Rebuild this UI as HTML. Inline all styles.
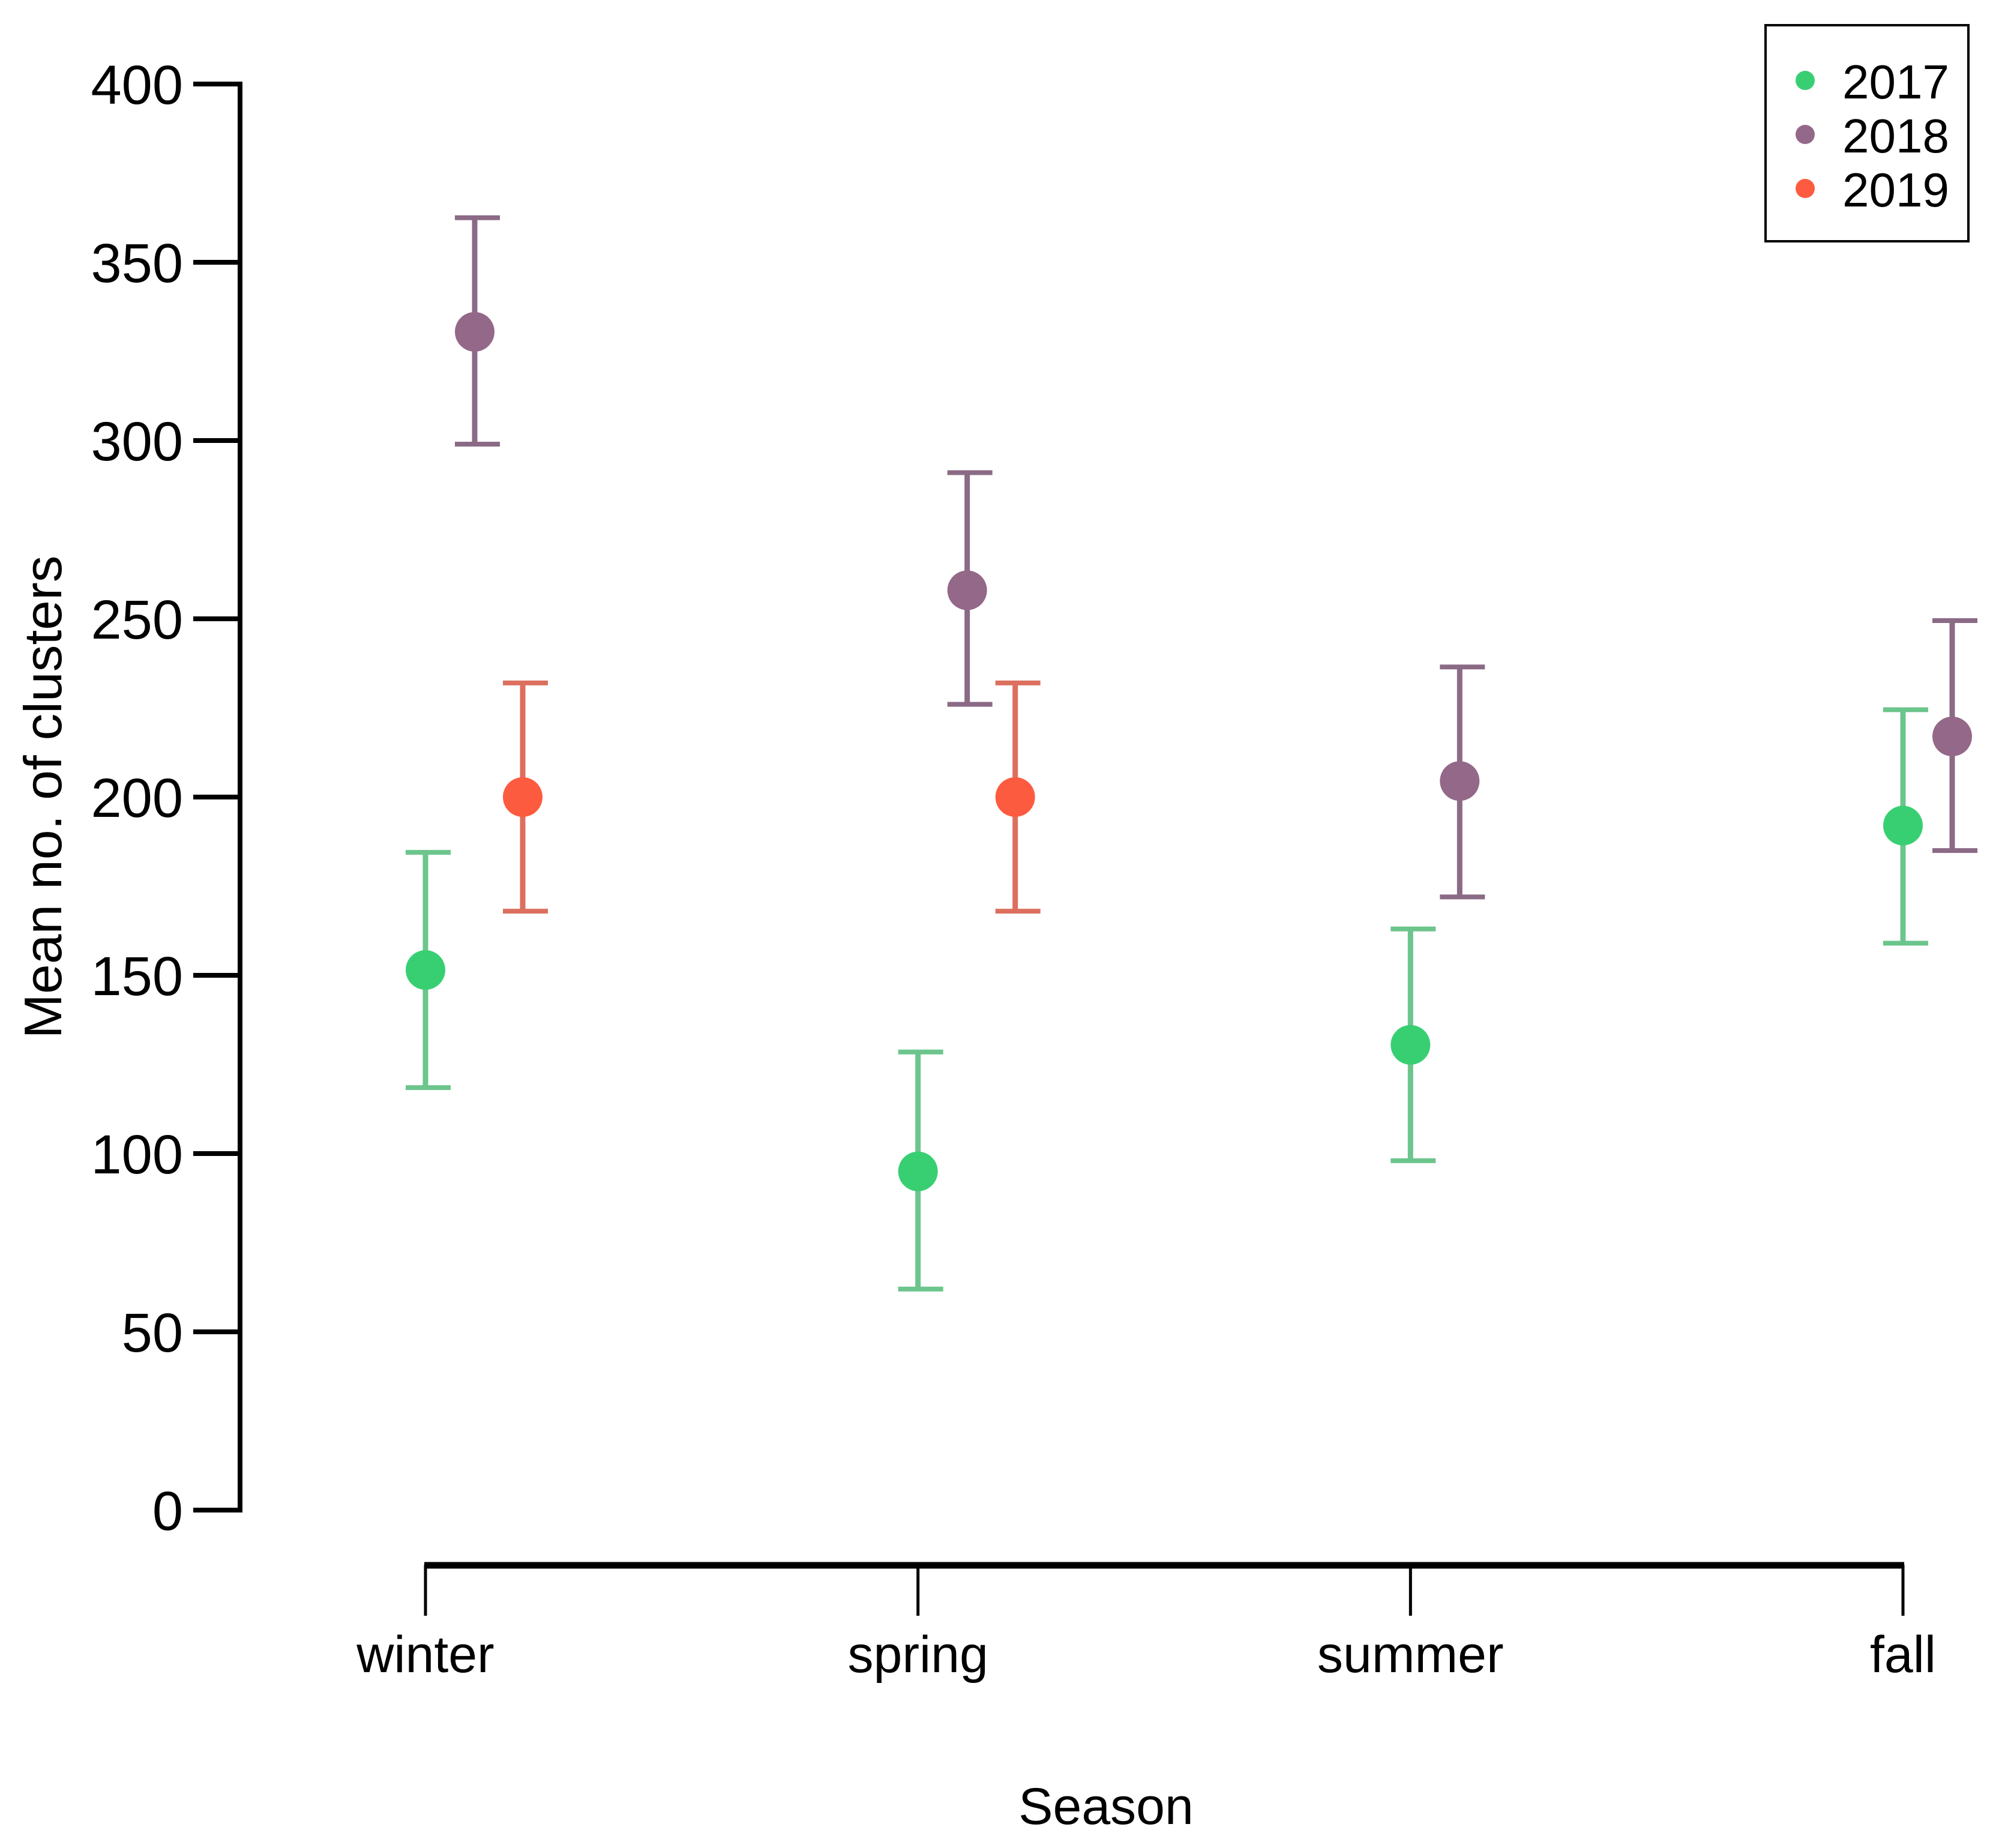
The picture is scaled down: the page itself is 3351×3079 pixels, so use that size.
<!DOCTYPE html>
<html><head><meta charset="utf-8"><style>html,body{margin:0;padding:0;background:#fff}svg{display:block}text{font-family:"Liberation Sans",Arial,sans-serif;fill:#000}</style></head>
<body>
<svg id="chart" xmlns="http://www.w3.org/2000/svg" width="3351" height="3079" viewBox="0 0 3351 3079">
<rect width="3351" height="3079" fill="#fff"/>
<g id="axes"></g>
<g id="marks"></g>
<g id="legend">
<rect x="2942" y="42" width="338" height="360" fill="#fff" stroke="#000" stroke-width="4"/>
</g>
<text x="1843" y="3039" font-size="86" text-anchor="middle">Season</text>
<text transform="translate(102,1328) rotate(-90)" font-size="88" text-anchor="middle" textLength="805" lengthAdjust="spacingAndGlyphs">Mean no. of clusters</text>
</svg>
<script>
const categories = ["winter","spring","summer","fall"];
const years = ["2017","2018","2019"];
const mean2017 = [151.5, 95, 130.5, 192];
const lo2017 = [118.5, 62, 98, 159];
const hi2017 = [184.5, 128.5, 163, 224.5];
const mean2018 = [330.5, 258, 204.5, 217];
const lo2018 = [299, 226, 172, 185];
const hi2018 = [362.5, 291, 236.5, 249.5];
const mean2019 = [200, 200, null, null];
const lo2019 = [168, 168, null, null];
const hi2019 = [232, 232, null, null];
const yTicks = [0,50,100,150,200,250,300,350,400];

const NS = "http://www.w3.org/2000/svg";
const Y0 = 2516, Y400 = 140;
function yScale(v){ return Y0 + (Y400 - Y0) * v / 400; }
const X0 = 709, X3 = 3171;
function xScale(i){ return X0 + (X3 - X0) * i / (categories.length - 1); }
const offsets = [0, 82, 162];
const markerCol = ["#38cf73","#946889","#fd5b3f"];
const barCol = ["#6cc58c","#8b6a86","#dc6f5e"];
function mk(tag, attrs, parent){ const e = document.createElementNS(NS, tag); for (const k in attrs) e.setAttribute(k, attrs[k]); parent.appendChild(e); return e; }

const axes = document.getElementById('axes');
let yl = mk('line',{x1:400,y1:yScale(400)-4,x2:400,y2:yScale(0)+4,stroke:'#000','stroke-width':8},axes);


yTicks.forEach(t=>{
  const y = yScale(t);
  let tk = mk('line',{x1:322,y1:y,x2:404,y2:y,stroke:'#000','stroke-width':8},axes);
  
  
  let lb = mk('text',{x:305,y:y+33,'font-size':92,'text-anchor':'end'},axes);
  lb.textContent = t;
  
  
});
let xl = mk('line',{x1:xScale(0)-2,y1:2608,x2:xScale(3)+2,y2:2608,stroke:'#000','stroke-width':11},axes);


categories.forEach((c,i)=>{
  const x = xScale(i);
  let tk = mk('line',{x1:x,y1:2607,x2:x,y2:2692,stroke:'#000','stroke-width':5},axes);
  
  
  let lb = mk('text',{x:x,y:2786,'font-size':86,'text-anchor':'middle'},axes);
  lb.textContent = c;
  
  
});

const marks = document.getElementById('marks');
const series = [[mean2017,lo2017,hi2017],[mean2018,lo2018,hi2018],[mean2019,lo2019,hi2019]];
series.forEach((s,si)=>{
  const g = mk('g',{},marks);
  
  
  s[0].forEach((m,i)=>{
    if (m===null) return;
    const x = xScale(i) + offsets[si];
    const yl2 = yScale(s[1][i]), yh = yScale(s[2][i]);
    let v = mk('line',{x1:x,y1:yh,x2:x,y2:yl2,stroke:barCol[si],'stroke-width':9},g);
    
    
    let c1 = mk('line',{x1:x-33,y1:yh,x2:x+42,y2:yh,stroke:barCol[si],'stroke-width':8},g);
    
    
    let c2 = mk('line',{x1:x-33,y1:yl2,x2:x+42,y2:yl2,stroke:barCol[si],'stroke-width':8},g);
    
    
    let p = mk('circle',{cx:x,cy:yScale(m),r:33,fill:markerCol[si]},g);
    
    
  });
});

const legend = document.getElementById('legend');
years.forEach((yr,i)=>{
  const y = 134 + i*90;
  const g = mk('g',{},legend);
  
  
  let d = mk('circle',{cx:3008,cy:y,r:16,fill:markerCol[i]},g);
  
  
  let t = mk('text',{x:3070,y:y+30,'font-size':80},g);
  t.textContent = yr;
  
  
});
</script>
</body></html>
